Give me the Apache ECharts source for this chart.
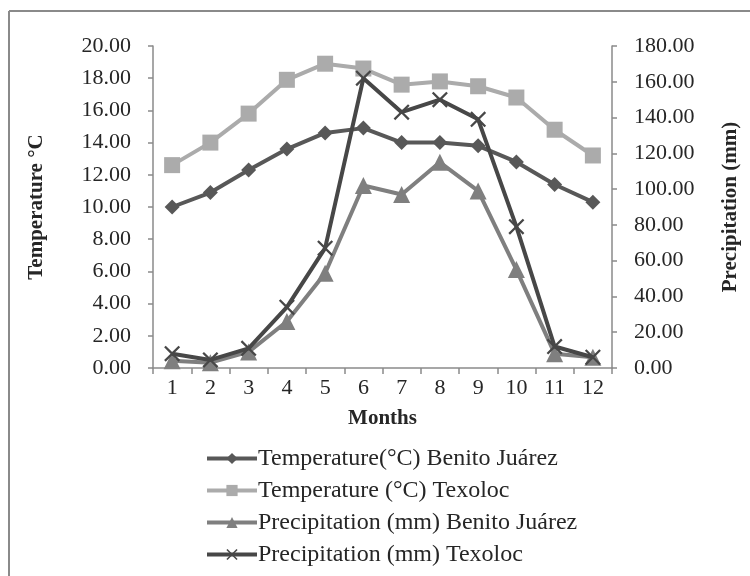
<!DOCTYPE html>
<html>
<head>
<meta charset="utf-8">
<script src="https://cdn.jsdelivr.net/npm/echarts@6/dist/echarts.min.js"></script>
<style>
html,body{margin:0;padding:0;background:#fff;}
#chart{width:750px;height:576px;}
</style>
</head>
<body>
<div id="chart"></div>
<script>
const months = ['1','2','3','4','5','6','7','8','9','10','11','12'];
const tempBenito = [10.0, 10.9, 12.3, 13.6, 14.6, 14.9, 14.0, 14.0, 13.8, 12.8, 11.4, 10.3];
const tempTexoloc = [12.6, 14.0, 15.8, 17.9, 18.9, 18.6, 17.6, 17.8, 17.5, 16.8, 14.8, 13.2];
const precBenito = [4, 3, 9, 26, 53, 102, 97, 115, 99, 55, 8, 6];
const precTexoloc = [8, 4.5, 11, 34, 67, 162, 143, 150, 139, 79, 12, 6];
const seriesNames = ['Temperature(°C) Benito Juárez','Temperature (°C) Texoloc','Precipitation (mm) Benito Juárez','Precipitation (mm) Texoloc'];

const FONT = 'Liberation Serif';
const crossPath = 'path://M2,0 L10,8 L18,0 L20,2 L12,10 L20,18 L18,20 L10,12 L2,20 L0,18 L8,10 L0,2 Z';

const chart = echarts.init(document.getElementById('chart'));
const axisLine = {show:true, lineStyle:{color:'#8a8a8a', width:1.5}};
const option = {
  backgroundColor:'#fff',
  animation:false,
  textStyle:{fontFamily:FONT},
  graphic:[
    {type:'line', shape:{x1:9, y1:11, x2:750, y2:11}, style:{stroke:'#8a8a8a', lineWidth:2}},
    {type:'line', shape:{x1:9, y1:11, x2:9, y2:576}, style:{stroke:'#8a8a8a', lineWidth:2}}
  ],
  grid:{left:153, right:138, top:46, bottom:208, containLabel:false},
  legend:{
    orient:'vertical', left:200, top:440, height:136,
    itemWidth:50, itemHeight:14, itemGap:5,
    lineStyle:{width:4},
    textStyle:{fontFamily:FONT, fontSize:24, lineHeight:27, color:'#262626', padding:[0,0,0,-4]},
    data:seriesNames
  },
  xAxis:{
    type:'category', data:months, boundaryGap:true,
    axisLine:axisLine,
    axisTick:{show:true, length:6, lineStyle:{color:'#8a8a8a', width:1.5}},
    axisLabel:{fontFamily:FONT, fontSize:22, color:'#262626', margin:9},
    name:'Months', nameLocation:'middle', nameGap:40,
    nameTextStyle:{fontFamily:FONT, fontSize:21, fontWeight:'bold', color:'#262626'}
  },
  yAxis:[
    {
      type:'value', min:0, max:20, interval:2, position:'left',
      axisLine:axisLine,
      axisTick:{show:true, length:5, lineStyle:{color:'#8a8a8a', width:1.5}},
      splitLine:{show:false},
      axisLabel:{fontFamily:FONT, fontSize:22, color:'#262626', margin:22, formatter:v=>v.toFixed(2)},
      name:'Temperature °C', nameLocation:'middle', nameGap:106, nameRotate:90,
      nameTextStyle:{fontFamily:FONT, fontSize:21, fontWeight:'bold', color:'#262626'}
    },
    {
      type:'value', min:0, max:180, interval:20, position:'right',
      axisLine:axisLine,
      axisTick:{show:true, length:5, lineStyle:{color:'#8a8a8a', width:1.5}},
      splitLine:{show:false},
      axisLabel:{fontFamily:FONT, fontSize:22, color:'#262626', margin:22, formatter:v=>v.toFixed(2)},
      name:'Precipitation (mm)', nameLocation:'middle', nameGap:108, nameRotate:90,
      nameTextStyle:{fontFamily:FONT, fontSize:21, fontWeight:'bold', color:'#262626'}
    }
  ],
  series:[
    {name:seriesNames[0], type:'line', yAxisIndex:0, data:tempBenito,
     symbol:'diamond', symbolSize:15, z:3,
     lineStyle:{color:'#585858', width:4}, itemStyle:{color:'#585858'}},
    {name:seriesNames[1], type:'line', yAxisIndex:0, data:tempTexoloc,
     symbol:'rect', symbolSize:16, z:2,
     lineStyle:{color:'#ababab', width:4}, itemStyle:{color:'#ababab'}},
    {name:seriesNames[2], type:'line', yAxisIndex:1, data:precBenito,
     symbol:'triangle', symbolSize:17, z:4,
     lineStyle:{color:'#7f7f7f', width:4}, itemStyle:{color:'#7f7f7f'}},
    {name:seriesNames[3], type:'line', yAxisIndex:1, data:precTexoloc,
     symbol:crossPath, symbolSize:16, z:5,
     lineStyle:{color:'#474747', width:4}, itemStyle:{color:'#474747'}}
  ]
};
chart.setOption(option);
</script>
</body>
</html>
